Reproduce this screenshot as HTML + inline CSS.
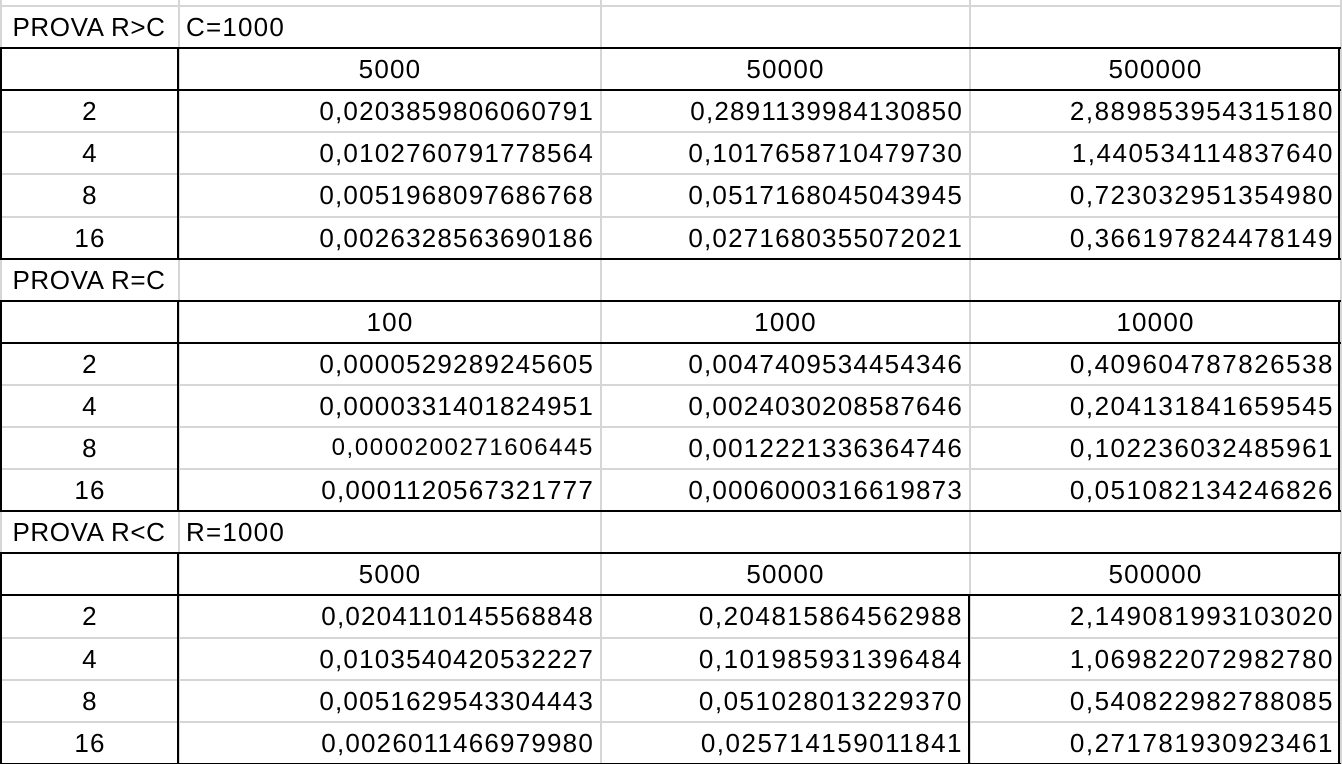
<!DOCTYPE html>
<html><head><meta charset="utf-8">
<style>
html,body{margin:0;padding:0;background:#fff;}
#sheet{position:relative;width:1342px;height:764px;overflow:hidden;font-family:"Liberation Sans",sans-serif;font-size:26px;color:#000;}
.cell{position:absolute;box-sizing:border-box;white-space:nowrap;line-height:42px;padding:1px 6px 0 8px;letter-spacing:1.2px;}
.ln{position:absolute;}
</style></head>
<body>
<div id="sheet"></div>
<script>
const colX=[0,178,600,969,1340];
const rowY0=5, rowH=42.1;
const rows=[
 ["PROVA R>C","C=1000","",""],
 ["","5000","50000","500000"],
 ["2","0,0203859806060791","0,2891139984130850","2,889853954315180"],
 ["4","0,0102760791778564","0,1017658710479730","1,440534114837640"],
 ["8","0,0051968097686768","0,0517168045043945","0,723032951354980"],
 ["16","0,0026328563690186","0,0271680355072021","0,366197824478149"],
 ["PROVA R=C","","",""],
 ["","100","1000","10000"],
 ["2","0,0000529289245605","0,0047409534454346","0,409604787826538"],
 ["4","0,0000331401824951","0,0024030208587646","0,204131841659545"],
 ["8","0,0000200271606445","0,0012221336364746","0,102236032485961"],
 ["16","0,0001120567321777","0,0006000316619873","0,051082134246826"],
 ["PROVA R<C","R=1000","",""],
 ["","5000","50000","500000"],
 ["2","0,0204110145568848","0,204815864562988","2,149081993103020"],
 ["4","0,0103540420532227","0,101985931396484","1,069822072982780"],
 ["8","0,0051629543304443","0,051028013229370","0,540822982788085"],
 ["16","0,0026011466979980","0,025714159011841","0,271781930923461"]
];
const s=document.getElementById('sheet');
function line(x,y,w,h,c){const d=document.createElement('div');d.className='ln';
d.style.cssText=`left:${x}px;top:${y}px;width:${w}px;height:${h}px;background:${c}`;


s.appendChild(d);}
const Y=i=>Math.round(rowY0+i*rowH);
for(let i=0;i<=18;i++) line(0,Y(i),1342,2,'#d6d6d6');
for(const x of colX) line(x,0,2,764,'#d6d6d6');
[1,7,13].forEach(t=>{
  [t,t+1,t+5].forEach(r=>line(0,Y(r),1341,2,'#000'));
  const top=Y(t),bot=Y(t+5);
  line(0,top,2,bot-top+2,'#000');
  line(177,top,2,bot-top+2,'#000');
  line(1338,top,2,bot-top+2,'#000');
  if(t===13) line(968,Y(t+1),2,bot-Y(t+1)+2,'#000');
});
rows.forEach((r,i)=>{
  r.forEach((txt,j)=>{
    if(!txt) return;
    const d=document.createElement('div');d.className='cell';
    const isLabel=j===0&&txt.startsWith('PROVA');
    const isNum=txt.indexOf(',')>0;
    let align=isNum?'right':(txt.includes('=')&&j>0?'left':'center');
    d.style.left=colX[j]+'px';d.style.top=Y(i)+'px';
    d.style.width=(colX[j+1]-colX[j])+'px';d.style.height='42px';
    d.style.textAlign=align;
    if(isLabel){d.style.letterSpacing='0.6px';d.style.padding='1px 0 0 0';}
    if(isNum&&txt.length===17){d.style.letterSpacing='1.5px';}
    if(i===10&&j===1){d.style.fontSize='24px';d.style.letterSpacing='1.6px';}
    d.textContent=txt;
    
    
    s.appendChild(d);
  });
});
</script>
</body></html>
